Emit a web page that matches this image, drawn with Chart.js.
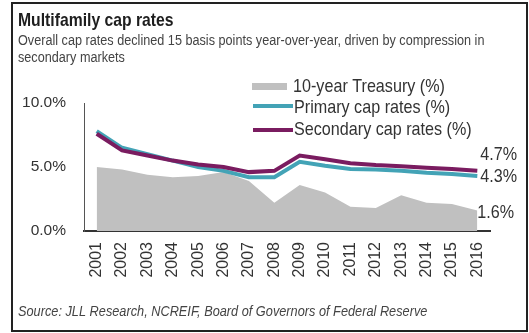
<!DOCTYPE html>
<html>
<head>
<meta charset="utf-8">
<script src="https://cdn.jsdelivr.net/npm/chart.js@4/dist/chart.umd.min.js"></script>
<style>
  html, body { margin: 0; padding: 0; background: #fff; }
  #wrap { position: absolute; left: 0; top: 0; width: 529px; height: 333px; }
  #frame { position: absolute; left: 11px; top: 2px; width: 513px; height: 326px;
           border: 2px solid #222; pointer-events: none; }
</style>
</head>
<body>
<div id="wrap"><canvas id="c" width="529" height="333"></canvas></div>
<div id="frame"></div>
<script>
// Multifamily cap rates vs. 10-year Treasury, 2001-2016
const years = ['2001','2002','2003','2004','2005','2006','2007','2008',
               '2009','2010','2011','2012','2013','2014','2015','2016'];
const treasury  = [5.0, 4.8, 4.4, 4.2, 4.3, 4.6, 3.9, 2.2, 3.6, 3.0, 1.9, 1.8, 2.8, 2.2, 2.1, 1.6];
const primary   = [7.8, 6.5, 6.0, 5.5, 5.0, 4.7, 4.2, 4.2, 5.4, 5.1, 4.85, 4.8, 4.7, 4.55, 4.45, 4.3];
const secondary = [7.6, 6.3, 5.9, 5.5, 5.2, 5.0, 4.6, 4.7, 5.9, 5.6, 5.3, 5.15, 5.05, 4.95, 4.85, 4.7];
const yTicks = [0, 5, 10];

const seriesNames = ['10-year Treasury (%)', 'Primary cap rates (%)', 'Secondary cap rates (%)'];
const titleText = 'Multifamily cap rates';
const subtitleLines = [
  'Overall cap rates declined 15 basis points year-over-year, driven by compression in',
  'secondary markets'
];
const sourceText = 'Source: JLL Research, NCREIF, Board of Governors of Federal Reserve';

const FONT = '"Liberation Sans", Arial, sans-serif';
const GRAY = '#c0c0c0', TEAL = '#43a3b6', PURPLE = '#7a1c60';
const NARROW = 0.85;   // horizontal condensing for the annotation text

function condensedText(ctx, text, x, y) {
  ctx.save();
  ctx.translate(x, y);
  ctx.scale(NARROW, 1);
  ctx.fillText(text, 0, 0);
  ctx.restore();
}

// Heading, legend, end-of-series values and source note
const decorations = {
  id: 'decorations',
  afterDraw(chart) {
    const ctx = chart.ctx;
    const xs = chart.scales.x, ys = chart.scales.y;
    ctx.save();
    ctx.textAlign = 'left';
    ctx.textBaseline = 'alphabetic';
    ctx.fillStyle = '#1e1e1e';
    ctx.font = 'bold 18.5px ' + FONT;
    condensedText(ctx, titleText, 18, 26);
    ctx.fillStyle = '#444';
    ctx.font = '14.9px ' + FONT;
    condensedText(ctx, subtitleLines[0], 18, 45);
    condensedText(ctx, subtitleLines[1], 18, 62);

    // legend
    ctx.fillStyle = GRAY;
    ctx.fillRect(252, 83, 35, 7);
    ctx.lineWidth = 4;
    ctx.strokeStyle = TEAL;
    ctx.beginPath(); ctx.moveTo(253, 106); ctx.lineTo(293, 106); ctx.stroke();
    ctx.strokeStyle = PURPLE;
    ctx.beginPath(); ctx.moveTo(253, 130); ctx.lineTo(293, 130); ctx.stroke();
    ctx.fillStyle = '#333';
    ctx.font = '19px ' + FONT;
    ctx.textBaseline = 'middle';
    condensedText(ctx, seriesNames[0], 293, 87);
    condensedText(ctx, seriesNames[1], 294, 108);
    condensedText(ctx, seriesNames[2], 294, 130);

    // last values
    const last = years.length - 1;
    const xl = xs.getPixelForValue(last);
    condensedText(ctx, secondary[last].toFixed(1) + '%', xl + 3, ys.getPixelForValue(secondary[last]) - 16);
    condensedText(ctx, primary[last].toFixed(1) + '%', xl + 3, ys.getPixelForValue(primary[last]) + 1);
    condensedText(ctx, treasury[last].toFixed(1) + '%', xl, ys.getPixelForValue(treasury[last]) + 2);

    // source
    ctx.fillStyle = '#444';
    ctx.font = 'italic 15px ' + FONT;
    condensedText(ctx, sourceText, 18, 312);
    ctx.restore();
  }
};

new Chart(document.getElementById('c'), {
  type: 'line',
  data: {
    labels: years,
    datasets: [
      { label: seriesNames[2], data: secondary, borderColor: PURPLE, borderWidth: 4,
        pointRadius: 0, fill: false, order: 1 },
      { label: seriesNames[1], data: primary, borderColor: TEAL, borderWidth: 4,
        pointRadius: 0, fill: false, order: 2 },
      { label: seriesNames[0], data: treasury, borderWidth: 0, borderColor: GRAY,
        backgroundColor: GRAY, pointRadius: 0, fill: 'origin', order: 3 }
    ]
  },
  options: {
    responsive: false,
    animation: false,
    layout: { padding: { left: 0, top: 103, right: 39, bottom: 40 } },
    plugins: { legend: { display: false }, tooltip: { enabled: false }, title: { display: false } },
    scales: {
      x: {
        offset: true,
        grid: { display: false, drawTicks: false },
        border: { color: '#333', width: 2 },
        ticks: { color: '#333', font: { family: FONT, size: 16 },
                 minRotation: 90, maxRotation: 90, padding: 11, autoSkip: false },
        afterFit(s) { s.height = 333 - 231 - 40; }
      },
      y: {
        min: 0, max: 10,
        afterBuildTicks(s) { s.ticks = yTicks.map(v => ({ value: v })); },
        grid: { display: false, drawTicks: false },
        border: { color: '#555', width: 1 },
        ticks: { color: '#333', font: { family: FONT, size: 15.5 }, padding: 18,
                 callback: v => v.toFixed(1) + '%' },
        afterFit(s) { s.width = 84; }
      }
    }
  },
  plugins: [decorations]
});
</script>
</body>
</html>
